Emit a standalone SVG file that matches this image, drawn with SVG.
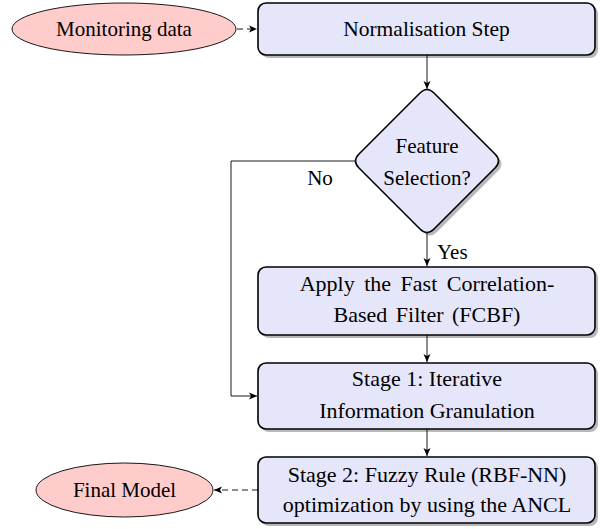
<svg xmlns="http://www.w3.org/2000/svg" width="600" height="529" viewBox="0 0 600 529" font-family="Liberation Serif">
<defs>
<marker id="arr" markerUnits="userSpaceOnUse" markerWidth="10" markerHeight="8" refX="8" refY="4" orient="auto">
<path d="M0,0.5 L8,4 L0,7.5 L2,4 z" fill="#000"/>
</marker>
</defs>
<style>
.box{fill:#e6e6fa;stroke:#000;stroke-width:1.6}
.ell{fill:#ffcccc;stroke:#000;stroke-width:0.9}
.sh{fill:#b8b8b8;stroke:none}
.c{fill:none;stroke:#000;stroke-width:0.9}
.d{stroke-dasharray:6,4}
</style>
<g id="monitoring">
<ellipse cx="124" cy="29" rx="112" ry="26" class="ell"/>
<text x="124" y="36" font-size="21" text-anchor="middle" style="font-family:'Liberation Serif'">Monitoring data</text>
</g>
<g id="normalisation">
<rect x="261" y="6" width="337" height="52" rx="8" class="sh"/>
<rect x="258" y="3" width="337" height="52" rx="8" class="box"/>
<text x="426.5" y="36" font-size="21.5" text-anchor="middle" style="font-family:'Liberation Serif'">Normalisation Step</text>
</g>
<g id="feature">
<path transform="translate(3,3)" class="sh" d="M420,93 Q427,86 434,93 L495,154 Q502,161 495,168 L434,229 Q427,236 420,229 L359,168 Q352,161 359,154 Z"/>
<path class="box" d="M420,93 Q427,86 434,93 L495,154 Q502,161 495,168 L434,229 Q427,236 420,229 L359,168 Q352,161 359,154 Z"/>
<text x="427" y="153" font-size="21" text-anchor="middle" style="font-family:'Liberation Serif'">Feature</text>
<text x="427" y="185" font-size="21" text-anchor="middle" style="font-family:'Liberation Serif'">Selection?</text>
</g>
<g id="fcbf">
<rect x="261" y="270" width="337" height="68" rx="8" class="sh"/>
<rect x="258" y="267" width="337" height="68" rx="8" class="box"/>
<text x="427" y="291" font-size="22" text-anchor="middle" word-spacing="4" style="font-family:'Liberation Serif'">Apply the Fast Correlation-</text>
<text x="427" y="322" font-size="22" text-anchor="middle" word-spacing="3" style="font-family:'Liberation Serif'">Based Filter (FCBF)</text>
</g>
<g id="stage1">
<rect x="261" y="366" width="337" height="66" rx="8" class="sh"/>
<rect x="258" y="363" width="337" height="66" rx="8" class="box"/>
<text x="427" y="386" font-size="22" text-anchor="middle" style="font-family:'Liberation Serif'">Stage 1: Iterative</text>
<text x="427" y="418" font-size="22" text-anchor="middle" style="font-family:'Liberation Serif'">Information Granulation</text>
</g>
<g id="stage2">
<rect x="261" y="460" width="337" height="66" rx="8" class="sh"/>
<rect x="258" y="457" width="337" height="66" rx="8" class="box"/>
<text x="427" y="482" font-size="22" text-anchor="middle" style="font-family:'Liberation Serif'">Stage 2: Fuzzy Rule (RBF-NN)</text>
<text x="427" y="512" font-size="22" text-anchor="middle" style="font-family:'Liberation Serif'">optimization by using the ANCL</text>
</g>
<g id="final">
<ellipse cx="124.5" cy="490" rx="88.5" ry="27" class="ell"/>
<text x="124.5" y="497" font-size="21" text-anchor="middle" style="font-family:'Liberation Serif'">Final Model</text>
</g>
<g id="connectors">
<line x1="237" y1="29" x2="257" y2="29" class="c d" marker-end="url(#arr)"/>
<line x1="427" y1="55" x2="427" y2="89" class="c" marker-end="url(#arr)"/>
<line x1="427" y1="233" x2="427" y2="266" class="c" marker-end="url(#arr)"/>
<text x="437" y="259" font-size="21" style="font-family:'Liberation Serif'">Yes</text>
<polyline points="355,161 231,161 231,396 257,396" class="c" marker-end="url(#arr)"/>
<text x="320" y="185" font-size="21" text-anchor="middle" style="font-family:'Liberation Serif'">No</text>
<line x1="427" y1="335" x2="427" y2="362" class="c" marker-end="url(#arr)"/>
<line x1="427" y1="429" x2="427" y2="456" class="c" marker-end="url(#arr)"/>
<line x1="258" y1="490" x2="214" y2="490" class="c d" marker-end="url(#arr)"/>
</g>
</svg>
